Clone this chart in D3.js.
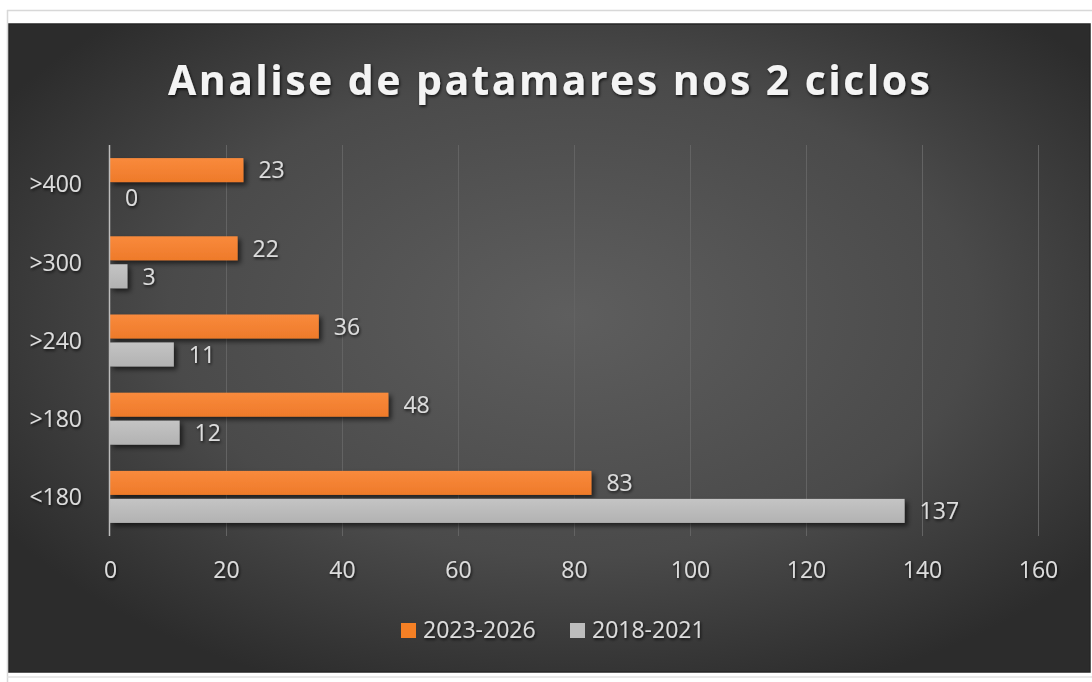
<!DOCTYPE html>
<html><head><meta charset="utf-8">
<script src="https://cdn.jsdelivr.net/npm/d3@7"></script>
<style>
html,body{margin:0;padding:0;background:#fff;}
svg{display:block;}
text{font-family:"Open Sans",sans-serif;}
</style></head>
<body>
<svg id="c" width="1092" height="682"></svg>
<script>
const categories = [">400", ">300", ">240", ">180", "<180"];
const series2023 = [23, 22, 36, 48, 83];
const series2018 = [0, 3, 11, 12, 137];
const seriesNames = ["2023-2026", "2018-2021"];
const xTicks = [0, 20, 40, 60, 80, 100, 120, 140, 160];
const title = "Analise de patamares nos 2 ciclos";

const svg = d3.select("#c");
const defs = svg.append("defs");

const rg = defs.append("radialGradient").attr("id","bg")
  .attr("cx","0.52").attr("cy","0.45").attr("r","0.62");
rg.append("stop").attr("offset","0").attr("stop-color","#5e5e5e");
rg.append("stop").attr("offset","0.6").attr("stop-color","#4a4a4a");
rg.append("stop").attr("offset","1").attr("stop-color","#2c2c2c");

const og = defs.append("linearGradient").attr("id","og").attr("x1",0).attr("y1",0).attr("x2",0).attr("y2",1);
og.append("stop").attr("offset","0").attr("stop-color","#f98a3c");
og.append("stop").attr("offset","1").attr("stop-color","#ee7a2a");
const gg = defs.append("linearGradient").attr("id","gg").attr("x1",0).attr("y1",0).attr("x2",0).attr("y2",1);
gg.append("stop").attr("offset","0").attr("stop-color","#c4c4c4");
gg.append("stop").attr("offset","1").attr("stop-color","#b2b2b2");

const sh = defs.append("filter").attr("id","sh").attr("x","-10%").attr("y","-50%").attr("width","130%").attr("height","250%");
sh.append("feDropShadow").attr("dx",3).attr("dy",3).attr("stdDeviation",2.5).attr("flood-color","#000").attr("flood-opacity",0.6);
const ts = defs.append("filter").attr("id","ts").attr("x","-10%").attr("y","-50%").attr("width","120%").attr("height","200%");
ts.append("feDropShadow").attr("dx",1).attr("dy",1.5).attr("stdDeviation",1.5).attr("flood-color","#000").attr("flood-opacity",0.8);

// page frame
svg.append("line").attr("x1",7).attr("x2",1092).attr("y1",10.5).attr("y2",10.5).attr("stroke","#d8d8d8").attr("stroke-width",1.5);
svg.append("line").attr("x1",7.5).attr("x2",7.5).attr("y1",10).attr("y2",682).attr("stroke","#d8d8d8").attr("stroke-width",1.5);
svg.append("rect").attr("x",9).attr("y",24).attr("width",1081).attr("height",648).attr("fill","url(#bg)")
  .attr("stroke","#262626").attr("stroke-width",1.5);
svg.append("line").attr("x1",7).attr("x2",1092).attr("y1",677).attr("y2",677).attr("stroke","#e0e0e0").attr("stroke-width",1.5);

// title
svg.append("text").attr("x",549).attr("y",95).attr("text-anchor","middle")
  .attr("font-size",41).attr("font-weight",700).attr("fill","#f4f4f4")
  .attr("textLength",762).attr("lengthAdjust","spacing")
  .attr("filter","url(#ts)").text(title);

const x = d3.scaleLinear().domain([0,160]).range([110,1038]);
const y = d3.scaleBand().domain(categories).range([145,536]);
const barH = 24, gap = 4;
const off = (y.bandwidth() - 2*barH - gap)/2;

// gridlines
svg.append("g").selectAll("line").data(xTicks.filter(d=>d>0)).join("line")
  .attr("x1",d=>x(d)+0.5).attr("x2",d=>x(d)+0.5).attr("y1",145).attr("y2",536)
  .attr("stroke","#636363").attr("stroke-width",1);

// bars
const gBars = svg.append("g").attr("filter","url(#sh)");
gBars.selectAll("rect.o").data(categories).join("rect").attr("class","o")
  .attr("x",x(0)).attr("y",(d)=>y(d)+off).attr("height",barH)
  .attr("width",(d,i)=>x(series2023[i])-x(0)).attr("fill","url(#og)");
gBars.selectAll("rect.g").data(categories).join("rect").attr("class","g")
  .attr("x",x(0)).attr("y",(d)=>y(d)+off+barH+gap).attr("height",barH)
  .attr("width",(d,i)=>x(series2018[i])-x(0)).attr("fill","url(#gg)");

// axis line at 0
svg.append("line").attr("x1",x(0)-0.5).attr("x2",x(0)-0.5).attr("y1",145).attr("y2",536)
  .attr("stroke","#bdbdbd").attr("stroke-width",1.5);

const lab = svg.append("g").attr("font-size",23).attr("fill","#dcdcdc").attr("filter","url(#ts)");
// value labels
lab.selectAll("text.v1").data(categories).join("text")
  .attr("x",(d,i)=>x(series2023[i])+15).attr("y",d=>y(d)+off+barH/2).attr("dy","0.36em")
  .text((d,i)=>series2023[i]);
lab.selectAll("text.v2").data(categories).join("text").attr("class","v2")
  .attr("x",(d,i)=>x(series2018[i])+15).attr("y",d=>y(d)+off+barH*1.5+gap).attr("dy","0.36em")
  .text((d,i)=>series2018[i]);

// category labels
lab.selectAll("text.c").data(categories).join("text").attr("class","c")
  .attr("x",82).attr("y",d=>y(d)+y.bandwidth()/2).attr("dy","0.36em").attr("text-anchor","end")
  .text(d=>d);

// x tick labels
const xAxis = d3.axisBottom(x).tickValues(xTicks).tickSize(0).tickPadding(0);
const ax = svg.append("g").attr("transform","translate(0,562)").call(xAxis);
ax.select(".domain").remove();
ax.selectAll("text").attr("font-size",23).attr("fill","#dcdcdc").attr("font-family","Open Sans, sans-serif")
  .attr("filter","url(#ts)").attr("dy","0.71em");

// legend
const leg = svg.append("g");
const legItems = [{n:seriesNames[0], c:"#f58025", x:401},{n:seriesNames[1], c:"#bdbdbd", x:570}];
leg.selectAll("rect").data(legItems).join("rect")
  .attr("x",d=>d.x).attr("y",623).attr("width",15).attr("height",15).attr("fill",d=>d.c);
leg.selectAll("text").data(legItems).join("text")
  .attr("x",d=>d.x+22).attr("y",638).attr("font-size",23).attr("fill","#dcdcdc").attr("filter","url(#ts)")
  .text(d=>d.n);
</script>
</body></html>
